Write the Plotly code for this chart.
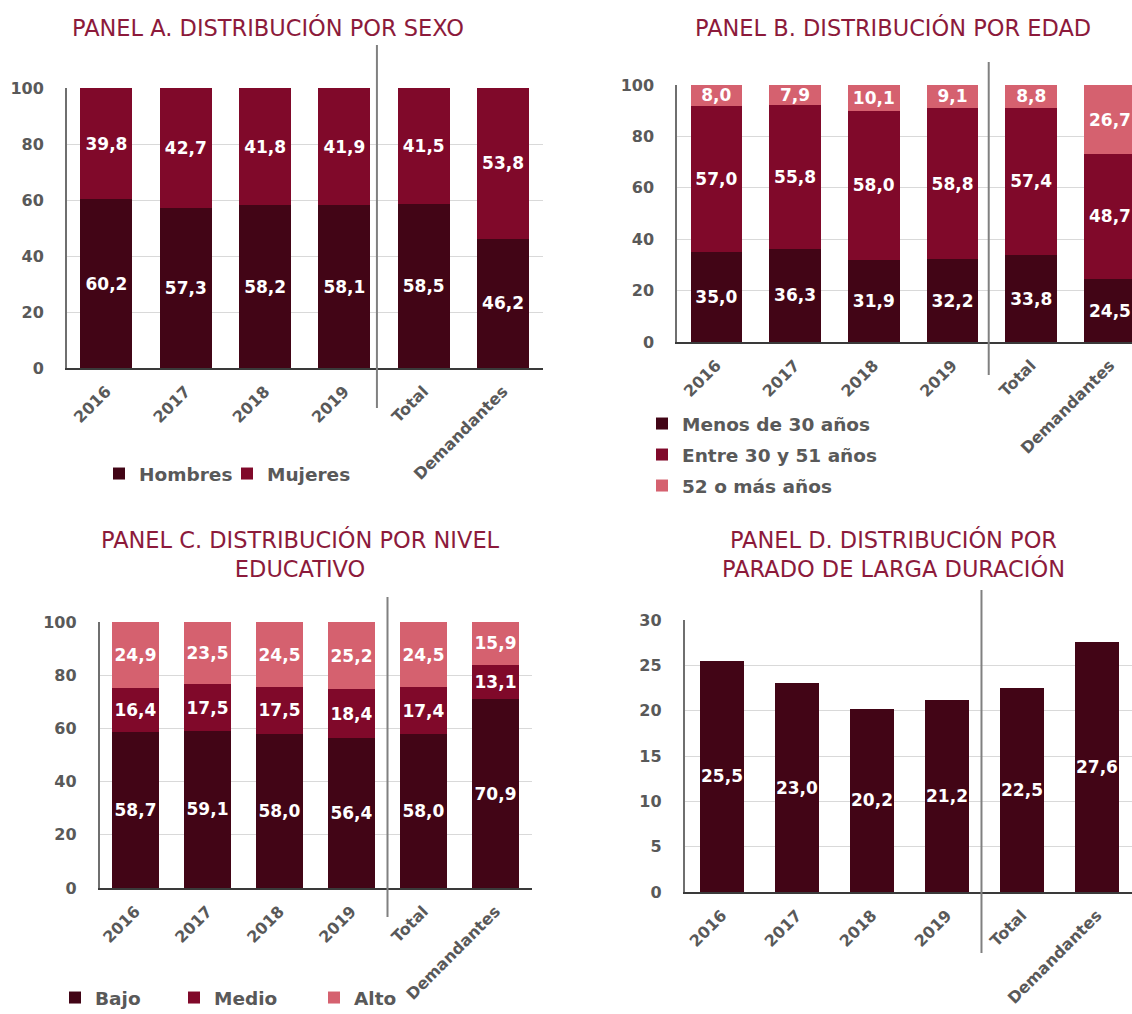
import plotly.graph_objects as go

# ---- data -------------------------------------------------------------
categorias = ["2016", "2017", "2018", "2019", "Total", "Demandantes"]

sexo_hombres = [60.2, 57.3, 58.2, 58.1, 58.5, 46.2]
sexo_mujeres = [39.8, 42.7, 41.8, 41.9, 41.5, 53.8]

edad_menos30 = [35.0, 36.3, 31.9, 32.2, 33.8, 24.5]
edad_30_51 = [57.0, 55.8, 58.0, 58.8, 57.4, 48.7]
edad_52mas = [8.0, 7.9, 10.1, 9.1, 8.8, 26.7]

educ_bajo = [58.7, 59.1, 58.0, 56.4, 58.0, 70.9]
educ_medio = [16.4, 17.5, 17.5, 18.4, 17.4, 13.1]
educ_alto = [24.9, 23.5, 24.5, 25.2, 24.5, 15.9]

larga_duracion = [25.5, 23.0, 20.2, 21.2, 22.5, 27.6]

# ---- style ------------------------------------------------------------
W, H = 1132, 1014
FONT = "DejaVu Sans"
GRAY = "#595959"
TITLE_C = "#8c1a3b"
C_DARK = "#420516"
C_MID = "#80092a"
C_LIGHT = "#d5616f"


def px_x(p):
    return p / W


def px_y(p):
    return 1 - p / H


fig = go.Figure()


def add_bar(y, name, color, ax, width, legend=None):
    fig.add_trace(go.Bar(
        x=categorias, y=y, name=name,
        marker=dict(color=color, line=dict(width=0)),
        width=width,
        xaxis="x" + ax, yaxis="y" + ax,
        texttemplate="%{y:.1f}", textposition="inside",
        insidetextanchor="middle", textangle=0,
        textfont=dict(family=FONT, size=17, color="white", weight="bold"),
        showlegend=legend is not None,
        legend=legend if legend else "legend",
        hoverinfo="skip",
    ))


# Panel A
add_bar(sexo_hombres, "Hombres", C_DARK, "", 0.655, "legend")
add_bar(sexo_mujeres, "Mujeres", C_MID, "", 0.655, "legend2")
# Panel B
add_bar(edad_menos30, "Menos de 30 años", C_DARK, "2", 0.655, "legend3")
add_bar(edad_30_51, "Entre 30 y 51 años", C_MID, "2", 0.655, "legend4")
add_bar(edad_52mas, "52 o más años", C_LIGHT, "2", 0.655, "legend5")
# Panel C
add_bar(educ_bajo, "Bajo", C_DARK, "3", 0.65, "legend6")
add_bar(educ_medio, "Medio", C_MID, "3", 0.65, "legend7")
add_bar(educ_alto, "Alto", C_LIGHT, "3", 0.65, "legend8")
# Panel D
add_bar(larga_duracion, "Parado de larga duración", C_DARK, "4", 0.59)


def xaxis(domain, rng, anchor):
    return dict(
        domain=domain, range=rng, anchor=anchor, type="category",
        tickangle=-45, ticks="", ticklabelstandoff=6,
        tickfont=dict(family=FONT, size=16, color=GRAY, weight="bold"),
        showgrid=False, showline=True, linecolor="#3a3a3a", linewidth=1.5,
        zeroline=False, fixedrange=True, automargin=False,
    )


def yaxis(domain, rng, dtick, anchor):
    return dict(
        domain=domain, range=rng, dtick=dtick, anchor=anchor,
        ticks="", ticklabelstandoff=18,
        tickfont=dict(family=FONT, size=16, color=GRAY, weight="bold"),
        showgrid=True, gridcolor="#d9d9d9", gridwidth=1,
        showline=True, linecolor="#6f6f6f", linewidth=1.5,
        zeroline=False, fixedrange=True, automargin=False,
    )


fig.update_layout(
    xaxis=xaxis([px_x(66.8), px_x(542.7)], [-0.5, 5.5], "y"),
    yaxis=yaxis([px_y(368), px_y(88)], [0, 100], 20, "x"),
    xaxis2=xaxis([px_x(677), 1.0], [-0.5, 5.28], "y2"),
    yaxis2=yaxis([px_y(342), px_y(85)], [0, 100], 20, "x2"),
    xaxis3=xaxis([px_x(99.5), px_x(531.5)], [-0.5, 5.5], "y3"),
    yaxis3=yaxis([px_y(888), px_y(622)], [0, 100], 20, "x3"),
    xaxis4=xaxis([px_x(684.5), 1.0], [-0.5, 5.467], "y4"),
    yaxis4=yaxis([px_y(892), px_y(620)], [0, 30], 5, "x4"),
)

# separators between the yearly bars and the aggregate bars
seps = [("x", 3.41, 45, 408), ("x2", 3.46, 62, 375),
        ("x3", 3.5, 597, 917), ("x4", 3.46, 590, 953)]
for xr, xv, y0, y1 in seps:
    fig.add_shape(type="line", xref=xr, yref="paper",
                  x0=xv, x1=xv, y0=px_y(y0), y1=px_y(y1),
                  line=dict(color="#808080", width=2), layer="above")

# panel titles
titles = [
    ("PANEL A. DISTRIBUCIÓN POR SEXO", 268, 27),
    ("PANEL B. DISTRIBUCIÓN POR EDAD", 893, 27),
    ("PANEL C. DISTRIBUCIÓN POR NIVEL<br>EDUCATIVO", 300, 554),
    ("PANEL D. DISTRIBUCIÓN POR<br>PARADO DE LARGA DURACIÓN", 893, 554),
]
for txt, x, y in titles:
    fig.add_annotation(text=txt, xref="paper", yref="paper",
                       x=px_x(x), y=px_y(y), xanchor="center", yanchor="middle",
                       showarrow=False, align="center",
                       font=dict(family=FONT, size=22.5, color=TITLE_C))

# legend entries, one box per entry (x = left edge of the swatch, y = row centre)
LEG_OFF = 14
leg_pos = {
    "legend": (113, 474), "legend2": (241, 474),
    "legend3": (656, 424), "legend4": (656, 455), "legend5": (656, 486),
    "legend6": (69, 998), "legend7": (188, 998), "legend8": (328, 998),
}
for key, (x, y) in leg_pos.items():
    fig.update_layout({key: dict(
        x=px_x(x - LEG_OFF), y=px_y(y), xanchor="left", yanchor="middle",
        xref="container", yref="container",
        bgcolor="rgba(0,0,0,0)", borderwidth=0,
        font=dict(family=FONT, size=18.5, color=GRAY, weight="bold"),
        itemclick=False, itemdoubleclick=False,
    )})

fig.update_layout(
    width=W, height=H, barmode="stack",
    margin=dict(l=0, r=0, t=0, b=0, pad=0, autoexpand=False),
    paper_bgcolor="white", plot_bgcolor="white",
    separators=",.",
    uniformtext=dict(minsize=17, mode="show"),
)

fig.write_html("out.html", config={"displayModeBar": False})
